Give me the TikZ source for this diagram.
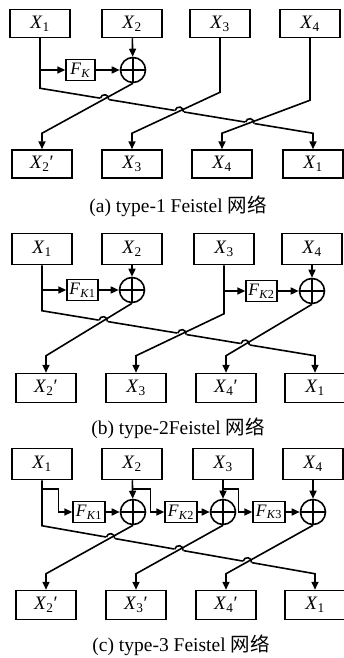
\documentclass[tikz,border=0pt]{standalone}
\usepackage{fontspec}
\setmainfont{Liberation Serif}
\newfontfamily\cjk{Noto Sans CJK SC}
\usetikzlibrary{arrows.meta,calc,intersections,backgrounds}
\newcommand{\vx}[2]{\textit{#1}\textsubscript{#2}}
% bump of the long wire where another wire crosses it
\newcommand{\hop}[1]{%
  \draw[white,line width=3.5pt] ($(#1)+(170:4.6pt)$) -- ($(#1)+(-10:4.6pt)$);
  \draw[wire] ($(#1)+(170:4.2pt)$) arc[start angle=170,end angle=-10,radius=4.2pt];}
\tikzset{
  >={Triangle[length=8pt,width=7pt]},
  every node/.style={font=\fontsize{19}{22}\selectfont},
  blk/.style={draw,line width=1.5pt,minimum width=60pt,minimum height=29pt,inner sep=0pt},
  fk/.style={draw,line width=1.4pt,minimum width=31pt,minimum height=21pt,inner sep=0pt,
    font=\fontsize{17.5}{20}\selectfont},
  xor/.style={circle,draw,line width=1.6pt,minimum size=25pt,inner sep=0pt,
    path picture={\draw[line width=1.8pt] (path picture bounding box.north)--(path picture bounding box.south)
      (path picture bounding box.west)--(path picture bounding box.east);}},
  wire/.style={line width=1.6pt},
  arrow/.style={->,line width=1.6pt},
  captext/.style={font=\fontsize{19.5}{22}\selectfont}
}
\begin{document}
\begin{tikzpicture}[x=1pt,y=1pt]
  \useasboundingbox (0,0) rectangle (344,-658);
  % (a) type-1
  \node[blk,minimum height=28pt] (ain1) at (40,-23.5) {\vx{X}{1}};
  \node[blk,minimum height=28pt] (ain2) at (132,-23.5) {\vx{X}{2}};
  \node[blk,minimum height=28pt] (ain3) at (220,-23.5) {\vx{X}{3}};
  \node[blk,minimum height=28pt] (ain4) at (310,-23.5) {\vx{X}{4}};
  \node[fk,minimum width=29pt] (afk) at (80.5,-70) {\vx{F}{\textit{K}}};
  \node[xor] (axor) at (133,-70) {};
  \node[blk,minimum height=28pt] (aout1) at (42,-164) {\vx{X}{2}′};
  \node[blk,minimum height=28pt] (aout2) at (132,-164) {\vx{X}{3}};
  \node[blk,minimum height=28pt] (aout3) at (222,-164) {\vx{X}{4}};
  \node[blk,minimum height=28pt] (aout4) at (313,-164) {\vx{X}{1}};
  \draw[arrow] (ain2) -- (axor);
  \draw[arrow] (ain1.south |- afk.west) -- (afk);
  \draw[arrow] (afk) -- (axor);
  \draw[arrow,name path=ad1] (axor.south) -- ($(aout1.north)+(0,16)$) -- (aout1.north);
  \draw[arrow,name path=ad2] (ain3.south) -- ++(0,-54) -- ($(aout2.north)+(0,16)$) -- (aout2.north);
  \draw[arrow,name path=ad3] (ain4.south) -- ++(0,-62) -- ($(aout3.north)+(0,16)$) -- (aout3.north);
  \begin{scope}[on background layer]
    \draw[arrow,name path=along] (ain1.south) -- ++(0,-50) -- ($(aout4.north)+(0,16)$) -- (aout4.north);
    \path[name intersections={of=along and ad1,by=ac1}];
    \path[name intersections={of=along and ad2,by=ac2}];
    \path[name intersections={of=along and ad3,by=ac3}];
    \hop{ac1}\hop{ac2}\hop{ac3}
  \end{scope}
  \node[captext] (acap) at (178,-206) {(a) type-1 Feistel {\cjk 网络}};

  % (b) type-2
  \node[blk,minimum height=31pt] (bin1) at (42,-249) {\vx{X}{1}};
  \node[blk,minimum height=31pt] (bin2) at (132,-249) {\vx{X}{2}};
  \node[blk,minimum height=31pt] (bin3) at (224,-249) {\vx{X}{3}};
  \node[blk,minimum height=31pt] (bin4) at (312,-249) {\vx{X}{4}};
  \node[fk] (bfk1) at (82.5,-290) {\vx{F}{\textit{K}1}};
  \node[xor] (bxor1) at (132,-290) {};
  \node[fk] (bfk2) at (261.5,-291) {\vx{F}{\textit{K}2}};
  \node[xor] (bxor2) at (312,-291) {};
  \node[blk] (bout1) at (46,-388) {\vx{X}{2}′};
  \node[blk] (bout2) at (136,-388) {\vx{X}{3}};
  \node[blk] (bout3) at (226,-388) {\vx{X}{4}′};
  \node[blk] (bout4) at (315,-388) {\vx{X}{1}};
  \draw[arrow] (bin2) -- (bxor1);
  \draw[arrow] (bin4) -- (bxor2);
  \draw[arrow] (bin1.south |- bfk1.west) -- (bfk1);
  \draw[arrow] (bin3.south |- bfk2.west) -- (bfk2);
  \draw[arrow] (bfk1) -- (bxor1);
  \draw[arrow] (bfk2) -- (bxor2);
  \draw[arrow,name path=bd1] (bxor1.south) -- ($(bout1.north)+(0,17)$) -- (bout1.north);
  \draw[arrow,name path=bd2] (bin3.south) -- ++(0,-48.5) -- ($(bout2.north)+(0,17)$) -- (bout2.north);
  \draw[arrow,name path=bd3] (bxor2.south) -- ($(bout3.north)+(0,17)$) -- (bout3.north);
  \begin{scope}[on background layer]
    \draw[arrow,name path=blong] (bin1.south) -- ++(0,-45.5) -- ($(bout4.north)+(0,17)$) -- (bout4.north);
    \path[name intersections={of=blong and bd1,by=bc1}];
    \path[name intersections={of=blong and bd2,by=bc2}];
    \path[name intersections={of=blong and bd3,by=bc3}];
    \hop{bc1}\hop{bc2}\hop{bc3}
  \end{scope}
  \node[captext] (bcap) at (178,-428) {(b) type-2Feistel {\cjk 网络}};

  % (c) type-3
  \node[blk,minimum height=31pt] (cin1) at (42,-464) {\vx{X}{1}};
  \node[blk,minimum height=31pt] (cin2) at (132,-464) {\vx{X}{2}};
  \node[blk,minimum height=31pt] (cin3) at (223,-464) {\vx{X}{3}};
  \node[blk,minimum height=31pt] (cin4) at (313,-464) {\vx{X}{4}};
  \node[fk,minimum width=32pt] (cfk1) at (89,-512) {\vx{F}{\textit{K}1}};
  \node[xor] (cxor1) at (133,-512) {};
  \node[fk,minimum width=32pt] (cfk2) at (181,-512) {\vx{F}{\textit{K}2}};
  \node[xor] (cxor2) at (223,-512) {};
  \node[fk,minimum width=32pt] (cfk3) at (269,-512) {\vx{F}{\textit{K}3}};
  \node[xor] (cxor3) at (313,-512) {};
  \node[blk] (cout1) at (46,-605) {\vx{X}{2}′};
  \node[blk] (cout2) at (136,-605) {\vx{X}{3}′};
  \node[blk] (cout3) at (226,-605) {\vx{X}{4}′};
  \node[blk] (cout4) at (315,-605) {\vx{X}{1}};
  \draw[arrow] (cin2) -- (cxor1);
  \draw[arrow] (cin3) -- (cxor2);
  \draw[arrow] (cin4) -- (cxor3);
  \draw[arrow] ($(cin1.south)+(0,-9)$) -| ($(cfk1.west)+(-14,0)$) -- (cfk1.west);
  \draw[arrow] ($(cin2.south)+(0,-9)$) -| ($(cfk2.west)+(-14,0)$) -- (cfk2.west);
  \draw[arrow] ($(cin3.south)+(0,-9)$) -| ($(cfk3.west)+(-14,0)$) -- (cfk3.west);
  \draw[arrow] (cfk1) -- (cxor1);
  \draw[arrow] (cfk2) -- (cxor2);
  \draw[arrow] (cfk3) -- (cxor3);
  \draw[arrow,name path=cd1] (cxor1.south) -- ($(cout1.north)+(0,16)$) -- (cout1.north);
  \draw[arrow,name path=cd2] (cxor2.south) -- ($(cout2.north)+(0,16)$) -- (cout2.north);
  \draw[arrow,name path=cd3] (cxor3.south) -- ($(cout3.north)+(0,16)$) -- (cout3.north);
  \begin{scope}[on background layer]
    \draw[arrow,name path=clong] (cin1.south) -- ++(0,-45.5) -- ($(cout4.north)+(0,16)$) -- (cout4.north);
    \path[name intersections={of=clong and cd1,by=cc1}];
    \path[name intersections={of=clong and cd2,by=cc2}];
    \path[name intersections={of=clong and cd3,by=cc3}];
    \hop{cc1}\hop{cc2}\hop{cc3}
  \end{scope}
  \node[captext] (ccap) at (181,-645) {(c) type-3 Feistel {\cjk 网络}};
\end{tikzpicture}
\end{document}
